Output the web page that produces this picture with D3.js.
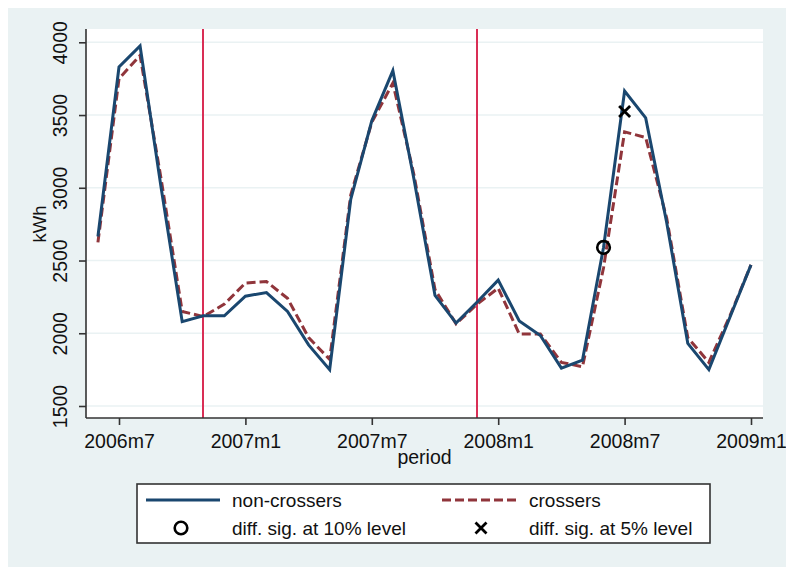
<!DOCTYPE html>
<html>
<head>
<meta charset="utf-8">
<script src="https://cdn.jsdelivr.net/npm/d3@7"></script>
<style>
  body { margin: 0; background: #fff; }
  svg text { font-family: "Liberation Sans", Arial, sans-serif; fill: #111; }
</style>
</head>
<body>
<svg id="chart" width="786" height="567"></svg>
<script>
// monthly periods, 2006m6 .. 2009m1
var periods = ["2006m6","2006m7","2006m8","2006m9","2006m10","2006m11","2006m12",
  "2007m1","2007m2","2007m3","2007m4","2007m5","2007m6","2007m7","2007m8","2007m9",
  "2007m10","2007m11","2007m12","2008m1","2008m2","2008m3","2008m4","2008m5","2008m6",
  "2008m7","2008m8","2008m9","2008m10","2008m11","2008m12","2009m1"];

var nonCrossers = [2665, 3830, 3975, 3000, 2080, 2120, 2120, 2255, 2280, 2150, 1920,
  1750, 2920, 3460, 3805, 3060, 2260, 2070, 2215, 2365, 2085, 1985, 1760, 1815, 2590,
  3665, 3480, 2760, 1930, 1750, 2110, 2470];

var crossers = [2625, 3750, 3910, 3060, 2150, 2115, 2200, 2345, 2355, 2240, 1970,
  1820, 2950, 3450, 3720, 3090, 2300, 2065, 2200, 2310, 1995, 1995, 1800, 1770, 2450,
  3385, 3345, 2790, 1970, 1800, 2120, 2470];

var sig10 = [{ period: "2008m6", value: 2590 }];
var sig5 = [{ period: "2008m7", value: 3525 }];

var eventLines = ["2006m11", "2007m12"];
var xTickLabels = ["2006m7", "2007m1", "2007m7", "2008m1", "2008m7", "2009m1"];
var yTickValues = [1500, 2000, 2500, 3000, 3500, 4000];

var legendItems = ["non-crossers", "crossers", "diff. sig. at 10% level", "diff. sig. at 5% level"];

// months since 2006m7
function monthIndex(p) {
  var parts = p.split("m");
  return (+parts[0] - 2006) * 12 + (+parts[1] - 7);
}

var blue = "#1a476f", maroon = "#90353b", redLine = "#d92e55", bg = "#eaf2f3";

var svg = d3.select("#chart");
var plot = { left: 86, right: 763, top: 29, bottom: 418 };

var x = d3.scaleLinear().domain([0, 30]).range([119, 751]);
var y = d3.scaleLinear().domain([1500, 4000]).range([406, 42.3]);

svg.append("rect").attr("x", 8).attr("y", 8).attr("width", 778).attr("height", 559).attr("fill", bg);
svg.append("rect").attr("x", plot.left).attr("y", plot.top)
  .attr("width", plot.right - plot.left).attr("height", plot.bottom - plot.top).attr("fill", "#fff");

// grid
svg.append("g").selectAll("line").data(yTickValues).join("line")
  .attr("x1", plot.left).attr("x2", plot.right)
  .attr("y1", function(d) { return y(d); }).attr("y2", function(d) { return y(d); })
  .attr("stroke", bg).attr("stroke-width", 1.5);

// event lines
svg.append("g").selectAll("line").data(eventLines).join("line")
  .attr("x1", function(d) { return Math.round(x(monthIndex(d))); })
  .attr("x2", function(d) { return Math.round(x(monthIndex(d))); })
  .attr("y1", plot.top).attr("y2", plot.bottom)
  .attr("stroke", redLine).attr("stroke-width", 2);

// axes
var yAxis = svg.append("g").attr("transform", "translate(" + plot.left + ",0)")
  .call(d3.axisLeft(y).tickValues(yTickValues).tickSize(7).tickFormat(d3.format("d")));
yAxis.select(".domain").attr("d", "M0," + plot.top + "V" + plot.bottom);
yAxis.selectAll("text")
  .attr("x", 0).attr("y", -19).attr("dy", null)
  .attr("transform", "rotate(-90)")
  .attr("text-anchor", "middle")
  .style("font-size", "19.5px");

var xAxis = svg.append("g").attr("transform", "translate(0," + plot.bottom + ")")
  .call(d3.axisBottom(x).tickValues(xTickLabels.map(monthIndex)).tickSize(7)
    .tickFormat(function(d, i) { return xTickLabels[i]; }));
xAxis.select(".domain").attr("d", "M" + plot.left + ",0H" + plot.right);
xAxis.selectAll("text").attr("y", 30).attr("dy", null).style("font-size", "19.5px");

svg.selectAll(".domain, .tick line").attr("stroke", "#333").attr("stroke-width", 1.6);
svg.selectAll(".tick text").attr("font-family", null);

svg.append("text").attr("transform", "translate(46,224) rotate(-90)")
  .attr("text-anchor", "middle").style("font-size", "18.5px").text("kWh");
svg.append("text").attr("x", 424.5).attr("y", 464)
  .attr("text-anchor", "middle").style("font-size", "19.5px").text("period");

// series
var line = d3.line()
  .x(function(d, i) { return x(monthIndex(periods[i])); })
  .y(function(d) { return y(d); });

svg.append("path").datum(crossers).attr("d", line)
  .attr("fill", "none").attr("stroke", maroon).attr("stroke-width", 3)
  .attr("stroke-dasharray", "9,4");
svg.append("path").datum(nonCrossers).attr("d", line)
  .attr("fill", "none").attr("stroke", blue).attr("stroke-width", 3)
  .attr("stroke-linejoin", "miter");

function drawX(g, cx, cy) {
  var s = 5.5;
  g.append("path").attr("d", "M" + (cx - s) + "," + (cy - s) + "L" + (cx + s) + "," + (cy + s) +
    "M" + (cx - s) + "," + (cy + s) + "L" + (cx + s) + "," + (cy - s))
    .attr("stroke", "#000").attr("stroke-width", 2.8);
}

svg.append("g").selectAll("circle").data(sig10).join("circle")
  .attr("cx", function(d) { return x(monthIndex(d.period)); })
  .attr("cy", function(d) { return y(d.value); })
  .attr("r", 6.3).attr("fill", "none").attr("stroke", "#000").attr("stroke-width", 2.6);

var xg = svg.append("g");
sig5.forEach(function(d) { drawX(xg, x(monthIndex(d.period)), y(d.value)); });

// legend
var lg = svg.append("g");
lg.append("rect").attr("x", 137).attr("y", 484).attr("width", 573).attr("height", 59)
  .attr("fill", "#fff").attr("stroke", "#333").attr("stroke-width", 1.6);
lg.append("line").attr("x1", 146).attr("x2", 220).attr("y1", 500).attr("y2", 500)
  .attr("stroke", blue).attr("stroke-width", 3);
lg.append("line").attr("x1", 442).attr("x2", 518).attr("y1", 500).attr("y2", 500)
  .attr("stroke", maroon).attr("stroke-width", 3).attr("stroke-dasharray", "9,4");
lg.append("circle").attr("cx", 181).attr("cy", 528).attr("r", 6.3)
  .attr("fill", "none").attr("stroke", "#000").attr("stroke-width", 2.6);
drawX(lg, 481, 528);
var legendPos = [[232, 507], [529, 507], [232, 535], [529, 535]];
lg.selectAll("text").data(legendItems).join("text")
  .attr("x", function(d, i) { return legendPos[i][0]; })
  .attr("y", function(d, i) { return legendPos[i][1]; })
  .style("font-size", "19px")
  .text(function(d) { return d; });
</script>
</body>
</html>
